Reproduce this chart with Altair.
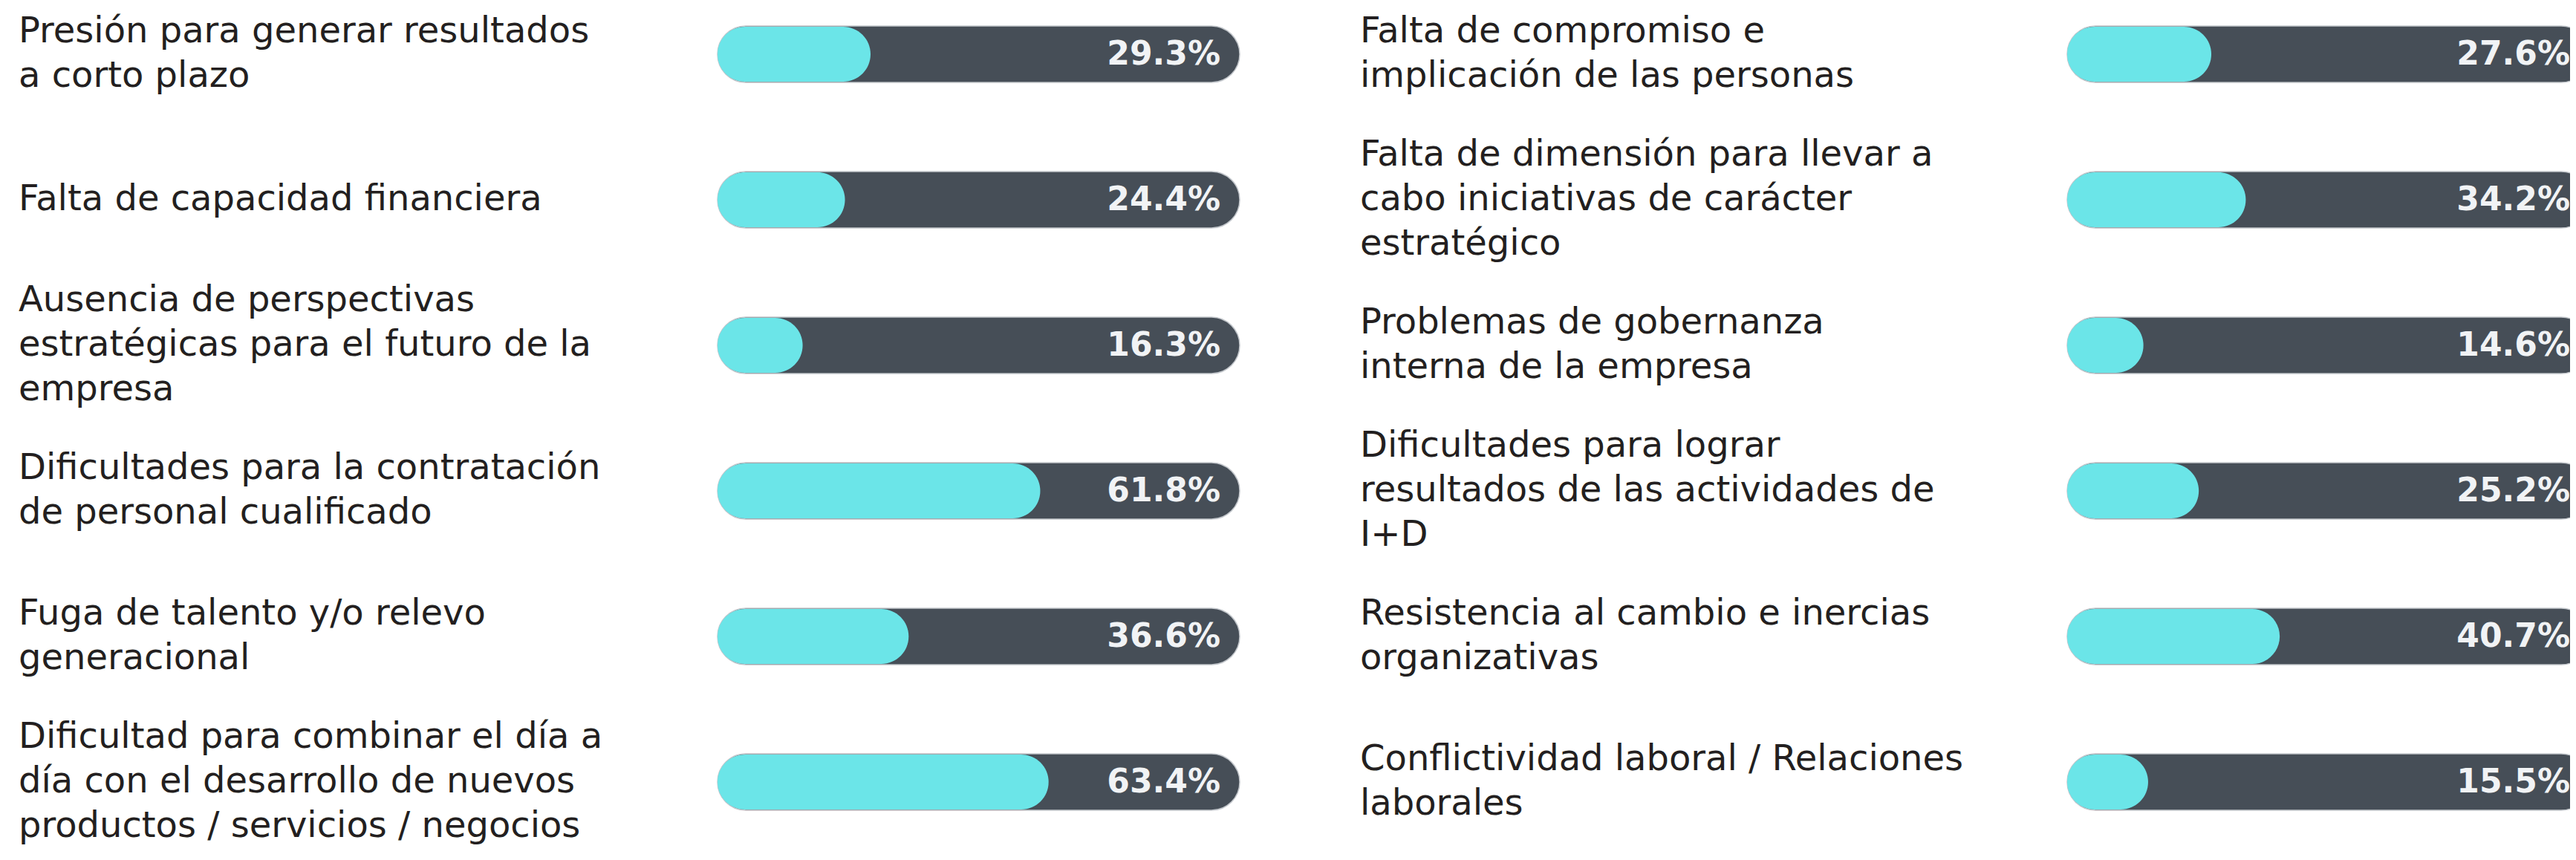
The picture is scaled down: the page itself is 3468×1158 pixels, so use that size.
import altair as alt
import pandas as pd

# ---- data ----
left_labels = [
    "Presión para generar resultados\na corto plazo",
    "Falta de capacidad financiera",
    "Ausencia de perspectivas\nestratégicas para el futuro de la\nempresa",
    "Dificultades para la contratación\nde personal cualificado",
    "Fuga de talento y/o relevo\ngeneracional",
    "Dificultad para combinar el día a\ndía con el desarrollo de nuevos\nproductos / servicios / negocios",
]
left_values = [29.3, 24.4, 16.3, 61.8, 36.6, 63.4]

right_labels = [
    "Falta de compromiso e\nimplicación de las personas",
    "Falta de dimensión para llevar a\ncabo iniciativas de carácter\nestratégico",
    "Problemas de gobernanza\ninterna de la empresa",
    "Dificultades para lograr\nresultados de las actividades de\nI+D",
    "Resistencia al cambio e inercias\norganizativas",
    "Conflictividad laboral / Relaciones\nlaborales",
]
right_values = [27.6, 34.2, 14.6, 25.2, 40.7, 15.5]

CYAN = "#6BE5E8"
TRACK = "#464E57"
TEXT = "#231F20"
PCT = "#F1F3F5"

ROW_STEP = 196
LINE_H = 60


def panel(labels, values, width, xrange):
    df = pd.DataFrame({
        "row": list(range(len(labels))),
        "label": labels,
        "value": values,
    })
    base = alt.Chart(df).transform_calculate(
        full="100",
        zero="0",
        pct="format(datum.value, '.1f') + '%'",
        lrow=f"datum.row - (length(split(datum.label, '\\n')) - 1) * {LINE_H / 2} / {ROW_STEP}",
    )
    ys = alt.Scale(domain=[0, 5], range=[65, 65 + 5 * ROW_STEP], padding=0, zero=False, nice=False)
    y = alt.Y("row:Q", scale=ys, axis=None)
    xs = alt.Scale(domain=[0, 100], range=xrange, padding=0, nice=False)

    track = base.mark_bar(
        orient="horizontal", size=76, cornerRadius=38,
        stroke="#C3C7CC", strokeWidth=1.5, clip=True,
    ).encode(
        x=alt.X("zero:Q", scale=xs, axis=None),
        x2="full:Q",
        y=y,
        fill=alt.value(TRACK),
    )

    fill = base.mark_bar(
        orient="horizontal", size=74, cornerRadius=37,
    ).encode(
        x=alt.X("zero:Q", scale=xs, axis=None),
        x2="value:Q",
        y=y,
        fill=alt.value(CYAN),
    )

    pct = base.mark_text(
        align="right", baseline="middle", dx=-26, dy=1,
        font="DejaVu Sans", fontSize=44, fontWeight="bold", color=PCT,
    ).encode(x=alt.X("full:Q", scale=xs, axis=None), y=y, text="pct:N")

    lab = base.mark_text(
        align="left", baseline="middle", lineBreak="\n", lineHeight=LINE_H,
        font="DejaVu Sans", fontSize=48, color=TEXT,
    ).encode(x=alt.value(17), y=alt.Y("lrow:Q", scale=ys, axis=None), text="label:N")

    return alt.layer(track, fill, pct, lab).properties(width=width, height=1140)


chart = alt.hconcat(
    panel(left_labels, left_values, 1670, [958, 1661]),
    panel(right_labels, right_values, 1646, [969, 1672]),
    spacing=136,
).properties(padding=0, background="white").configure_view(stroke=None)

chart.save("out.html", embed_options={"renderer": "svg", "actions": False})
